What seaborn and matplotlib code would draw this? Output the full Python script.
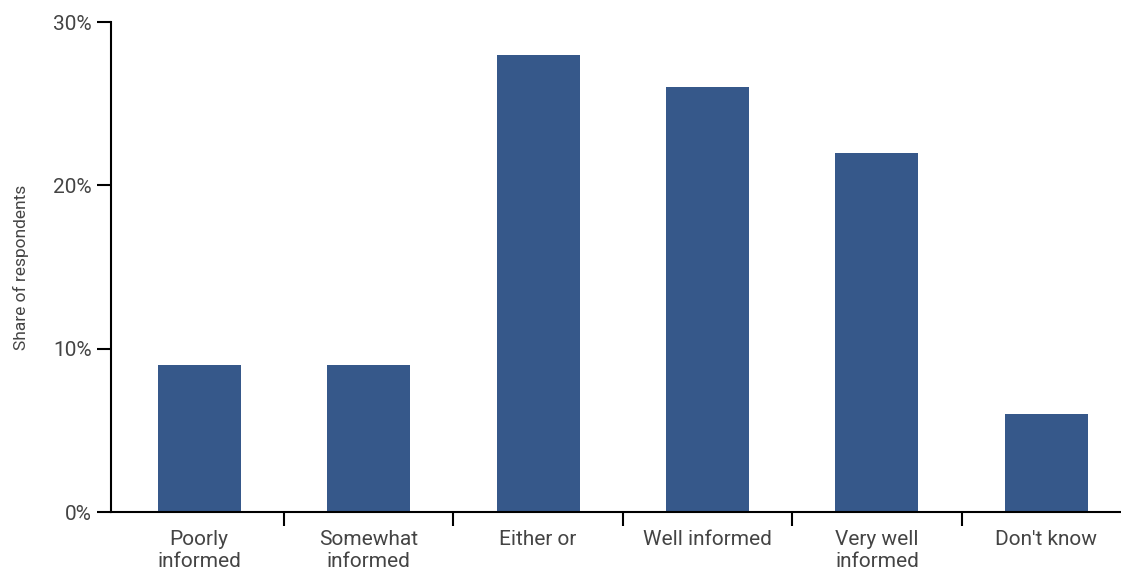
import matplotlib
matplotlib.use("Agg")
import matplotlib.pyplot as plt
import seaborn as sns
import pandas as pd
from matplotlib.ticker import FixedLocator, PercentFormatter
from matplotlib import font_manager

categories = ["Poorly\ninformed", "Somewhat\ninformed", "Either or",
              "Well informed", "Very well\ninformed", "Don't know"]
shares = [9, 9, 28, 26, 22, 6]
y_ticks = [0, 10, 20, 30]

sns.set_style("white")
names = {f.name for f in font_manager.fontManager.ttflist}
fam = "Liberation Sans Narrow" if "Liberation Sans Narrow" in names else "Roboto"
plt.rcParams['font.family'] = [fam, 'DejaVu Sans']

df = pd.DataFrame({"category": categories, "share": shares})

fig = plt.figure(figsize=(11.21, 5.73), dpi=100)
ax = fig.add_axes([111 / 1121, 1 - 512 / 573, 1 - 111 / 1121, (512 - 22) / 573])
sns.barplot(data=df, x="category", y="share", color="#36588a", width=0.49,
            saturation=1, linewidth=0, ax=ax)

ax.set_xlim(-0.52, 5.44)
ax.set_ylim(0, 30)
ax.set_yticks(y_ticks)
ax.yaxis.set_major_formatter(PercentFormatter(decimals=0))
ax.xaxis.set_minor_locator(FixedLocator([0.5, 1.5, 2.5, 3.5, 4.5]))
ax.tick_params(axis="x", which="major", length=0, pad=13, labelsize=15, labelcolor="#444444")
ax.tick_params(axis="x", which="minor", bottom=True, length=10, width=1.5, color="black", direction="out")
ax.tick_params(axis="y", left=True, length=10, width=1.5, color="black", direction="out",
               labelsize=15, labelcolor="#444444", pad=4)
for lbl in ax.get_xticklabels():
    lbl.set_linespacing(1.2)

for side in ["top", "right"]:
    ax.spines[side].set_visible(False)
for side in ["left", "bottom"]:
    ax.spines[side].set_color("black")
    ax.spines[side].set_linewidth(1.5)

ax.set_xlabel("")
ax.set_ylabel("Share of respondents", fontsize=12.5, color="#444444")
ax.yaxis.set_label_coords(-82 / 1010, 0.5)

fig.savefig("out.png", dpi=100)
